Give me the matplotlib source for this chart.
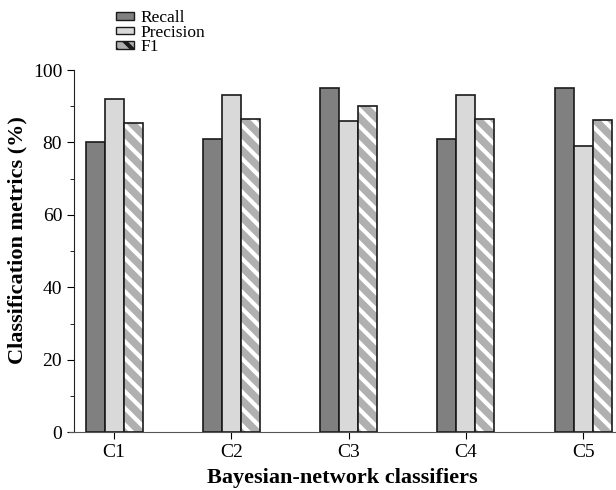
import numpy as np
import matplotlib.pyplot as plt
from matplotlib.patches import Patch

plt.rcParams['font.family'] = ['Liberation Serif', 'DejaVu Serif']
plt.rcParams['hatch.linewidth'] = 3.0

classifiers = ['C1', 'C2', 'C3', 'C4', 'C5']
recall = [80, 81, 95, 81, 95]
precision = [92, 93, 86, 93, 79]
f1 = [85.5, 86.5, 90.2, 86.5, 86.2]

fig = plt.figure(figsize=(6.16, 4.9), dpi=100)
ax = fig.add_axes([0.112, 0.118, 0.888, 0.739])

x = np.arange(len(classifiers))
w = 0.162
edge = '#1a1a1a'

ax.bar(x - w, recall, w, color='#808080', edgecolor=edge, linewidth=1.2, zorder=2)
ax.bar(x, precision, w, color='#d9d9d9', edgecolor=edge, linewidth=1.2, zorder=2)
# hatched F1: white stripes on grey, then black outline on top
ax.bar(x + w, f1, w, color='#b0b0b0', edgecolor='white', hatch='\\\\', linewidth=0, zorder=2)
ax.bar(x + w, f1, w, color='none', edgecolor=edge, linewidth=1.2, zorder=3)

ax.set_xlim(-0.385, 4.28)
ax.set_ylim(0, 100)
ax.spines['left'].set_position(('data', -0.342))
ax.spines['top'].set_visible(False)
ax.spines['right'].set_visible(False)
ax.spines['bottom'].set_color('#555555')
ax.spines['left'].set_color('#222222')

ax.set_xticks(x)
ax.set_xticklabels(classifiers)
ax.set_yticks(np.arange(0, 101, 20))
ax.set_yticks(np.arange(0, 101, 10), minor=True)
ax.tick_params(axis='both', which='major', labelsize=14, direction='out', length=5)
ax.tick_params(axis='y', which='minor', direction='out', length=3)

ax.set_ylabel('Classification metrics (%)', fontsize=16, fontweight='bold')
ax.yaxis.set_label_coords(-0.075, 0.53)
ax.set_xlabel('Bayesian-network classifiers', fontsize=16, fontweight='bold', labelpad=5)

handles = [
    Patch(facecolor='#808080', edgecolor=edge),
    Patch(facecolor='#d9d9d9', edgecolor=edge),
    Patch(facecolor='#b0b0b0', edgecolor=edge, hatch='\\\\'),
]
fig.legend(handles, ['Recall', 'Precision', 'F1'], loc='upper left',
           bbox_to_anchor=(0.168, 1.004), frameon=False, fontsize=12.5,
           handlelength=1.05, handleheight=0.3, handletextpad=0.4,
           labelspacing=-0.08, borderpad=0.2)

fig.savefig('out.png', dpi=100)
